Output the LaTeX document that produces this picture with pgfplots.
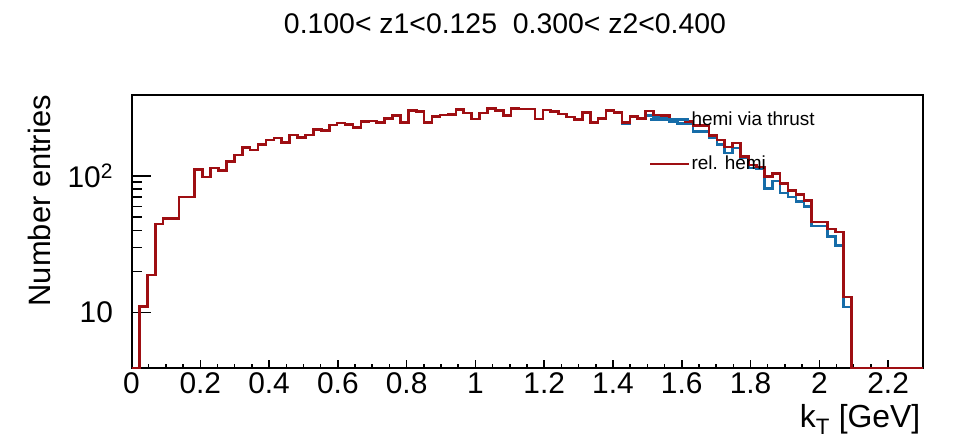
\documentclass[border=0pt]{standalone}
\usepackage{pgfplots}
\usepackage{pgfplotstable}
\pgfplotsset{compat=1.18}
\usepackage{fontspec}
\setmainfont{Liberation Sans}
\definecolor{rootred}{RGB}{158,14,18}
\definecolor{rootblue}{RGB}{22,108,168}
\pgfplotstableread{
x red blue
0.000 3.94 3.94
0.023 11.1 11.1
0.046 18.9 18.9
0.069 44.6 44.6
0.092 48.7 48.7
0.115 48.7 48.7
0.138 70 70
0.161 70 70
0.184 111 111
0.207 98 98
0.230 114 114
0.253 110 110
0.276 128 128
0.299 142 142
0.322 162 162
0.345 155 155
0.368 170 170
0.391 183 183
0.414 190 190
0.437 176 176
0.460 199 199
0.483 192 192
0.506 199 199
0.529 218 218
0.552 216 216
0.575 236 236
0.598 244 244
0.621 239 239
0.644 227 227
0.667 250 250
0.690 252 252
0.713 247 247
0.736 264 264
0.759 276 276
0.782 247 247
0.805 300 300
0.828 295 295
0.851 247 247
0.874 271 271
0.897 279 279
0.920 282 282
0.943 305 305
0.966 288 288
0.989 261 261
1.012 288 288
1.035 313 313
1.058 300 300
1.081 276 276
1.104 313 313
1.127 308 308
1.150 308 308
1.173 261 261
1.196 304 304
1.219 295 295
1.242 283 283
1.265 270 270
1.288 258 258
1.311 292 292
1.334 247 247
1.357 264 264
1.380 302 304
1.403 292 292
1.426 247 241
1.449 271 271
1.472 264 264
1.495 299 278
1.518 279 267
1.541 276 267
1.564 257 250
1.587 257 241
1.610 250 243
1.633 234 211
1.656 234 211
1.679 198 189
1.702 183 170
1.725 163 147
1.748 174 160
1.771 139 135
1.794 120 114
1.817 116 113
1.840 99 81
1.863 104 92
1.886 88 75
1.909 78 70
1.932 73 65
1.955 66 60
1.978 46 43
2.001 46 43
2.024 41 36
2.047 39 31
2.070 13 11
2.093 3.94 3.94
2.300 3.94 3.94
}\histdata
\begin{document}
\begin{tikzpicture}
\useasboundingbox (0,0) rectangle (957bp,443bp);
\begin{axis}[
  at={(131.5bp,75bp)}, anchor=south west,
  scale only axis, width=791bp, height=273bp,
  xmin=0, xmax=2.3, ymin=3.94, ymax=391,
  ymode=log,
  clip=false,
  axis line style={line width=2bp},
  tick align=inside, xtick pos=bottom, ytick pos=left,
  xtick={0,0.2,0.4,0.6,0.8,1,1.2,1.4,1.6,1.8,2,2.2},
  minor x tick num=3,
  ytick={10,100}, yticklabels={10,10\textsuperscript{2}},
  tick style={line width=1.5bp, black},
  x tick style={/pgfplots/major tick length=8bp, /pgfplots/minor tick length=4bp},
  y tick style={/pgfplots/major tick length=20bp, /pgfplots/minor tick length=10bp},
  /pgf/number format/assume math mode=true,
  ticklabel style={font=\fontsize{30}{32}\selectfont},
  xticklabel style={yshift=-1bp},
  yticklabel style={xshift=-15bp},
  title={0.100< z1<0.125\ \ 0.300< z2<0.400},
  title style={font=\fontsize{28.5}{30}\selectfont, at={(axis description cs:0.5,1)}, anchor=south, inner sep=0pt, xshift=-22bp, yshift=55bp},
  xlabel={k\textsubscript{T} [GeV]},
  xlabel style={font=\fontsize{32}{34}\selectfont, at={(axis description cs:1,0)}, anchor=north east, inner sep=0pt, yshift=-36bp, xshift=-2bp},
  ylabel={Number entries},
  ylabel style={font=\fontsize{31}{33}\selectfont, at={(axis description cs:0,1)}, anchor=north east, inner sep=0pt, yshift=103.5bp},
  legend style={at={(0.654,0.942)}, anchor=north west, draw=none, fill=none, font=\fontsize{19}{22}\selectfont, inner sep=0pt, row sep=27bp, nodes={inner sep=1bp}},
  legend cell align=left,
  legend image code/.code={\draw[#1] (0bp,0bp) -- (39bp,0bp);},
]
\addplot[const plot mark left, rootblue, line width=2.6bp, no marks] table[x=x,y=blue]{\histdata};
\addlegendentry{hemi via thrust}
\addplot[const plot mark left, rootred, line width=2.6bp, no marks] table[x=x,y=red]{\histdata};
\addlegendentry{rel. hemi}
\end{axis}
\end{tikzpicture}
\end{document}
